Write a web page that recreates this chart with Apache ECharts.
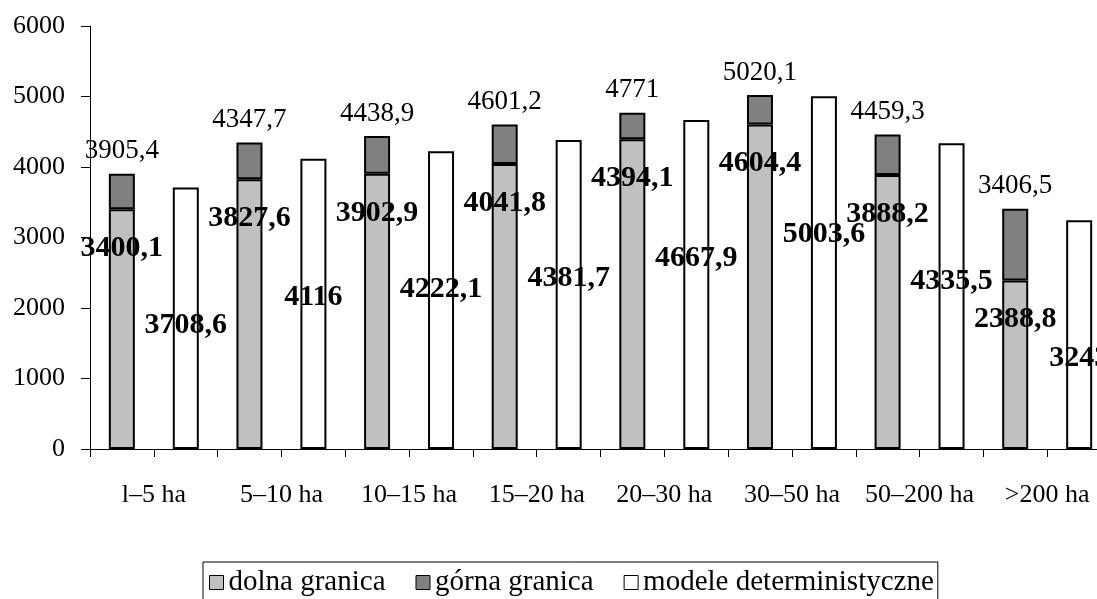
<!DOCTYPE html>
<html>
<head>
<meta charset="utf-8">
<script src="https://cdn.jsdelivr.net/npm/echarts@6/dist/echarts.min.js"></script>
<style>
html,body{margin:0;padding:0;background:#fff;overflow:hidden;width:1097px;height:599px;}
#chart{width:1111px;height:599px;}
</style>
</head>
<body>
<div id="chart"></div>
<script>
var categories = ['l\u20135 ha', '5\u201310 ha', '10\u201315 ha', '15\u201320 ha', '20\u201330 ha', '30\u201350 ha', '50\u2013200 ha', '>200 ha'];
var dolna = [3400.1, 3827.6, 3902.9, 4041.8, 4394.1, 4604.4, 3888.2, 2388.8];
var gorna = [3905.4, 4347.7, 4438.9, 4601.2, 4771, 5020.1, 4459.3, 3406.5];
var modele = [3708.6, 4116, 4222.1, 4381.7, 4667.9, 5003.6, 4335.5, 3243];
var yTicks = [0, 1000, 2000, 3000, 4000, 5000, 6000];
var seriesNames = ['dolna granica', 'g\u00f3rna granica', 'modele deterministyczne'];

var FONT = "'Liberation Serif', 'Times New Roman', serif";
function fmt(v) { return String(v).replace('.', ','); }
var gornaDiff = gorna.map(function (g, i) { return Math.round((g - dolna[i]) * 10) / 10; });
var halfSlots = [];
for (var i = 0; i < categories.length * 2; i++) halfSlots.push('');

var chart = echarts.init(document.getElementById('chart'), null, {renderer: 'canvas'});
chart.setOption({
  animation: false,
  backgroundColor: '#fff',
  textStyle: {fontFamily: FONT, color: '#000'},
  grid: {left: 90, top: 26, width: 1021, height: 423, containLabel: false},
  legend: {
    data: seriesNames,
    left: 203, top: 562,
    icon: 'rect', itemWidth: 14, itemHeight: 14, itemGap: 30,
    itemStyle: {borderWidth: 1, borderColor: '#000'},
    borderColor: '#000', borderWidth: 1, padding: [6, 4, 8, 6],
    textStyle: {fontFamily: FONT, fontSize: 29, color: '#000'}
  },
  xAxis: [{
    type: 'category', data: categories, position: 'bottom',
    axisLine: {show: true, lineStyle: {color: '#000', width: 1}},
    axisTick: {show: false},
    axisLabel: {fontFamily: FONT, fontSize: 26, color: '#000', margin: 33, interval: 0}
  }, {
    type: 'category', data: halfSlots, position: 'bottom', gridIndex: 0,
    axisLine: {show: false},
    axisTick: {show: true, length: 8, lineStyle: {color: '#000', width: 1}},
    axisLabel: {show: false}
  }],
  yAxis: {
    type: 'value', min: yTicks[0], max: yTicks[yTicks.length - 1], interval: 1000,
    axisLine: {show: true, lineStyle: {color: '#000', width: 1}},
    axisTick: {show: true, length: 9, lineStyle: {color: '#000'}},
    splitLine: {show: false},
    axisLabel: {fontFamily: FONT, fontSize: 26, color: '#000', margin: 25,
      formatter: function (v) { return String(v); }}
  },
  series: [{
    name: seriesNames[0], type: 'bar', stack: 'g', xAxisIndex: 0, barWidth: 26,
    data: dolna,
    itemStyle: {color: '#C0C0C0', borderColor: '#000', borderWidth: 2},
    label: {show: true, position: 'insideTop', distance: 24, fontFamily: FONT, fontSize: 30,
      fontWeight: 'bold', color: '#000', formatter: function (p) { return fmt(dolna[p.dataIndex]); }}
  }, {
    name: seriesNames[1], type: 'bar', stack: 'g', xAxisIndex: 0, barWidth: 26,
    data: gornaDiff,
    itemStyle: {color: '#808080', borderColor: '#000', borderWidth: 2},
    label: {show: true, position: 'top', distance: 9, fontFamily: FONT, fontSize: 27,
      color: '#000', formatter: function (p) { return fmt(gorna[p.dataIndex]); }}
  }, {
    name: seriesNames[2], type: 'bar', xAxisIndex: 0, barWidth: 26, barGap: '146%',
    data: modele,
    itemStyle: {color: '#FFFFFF', borderColor: '#000', borderWidth: 2},
    label: {show: true, position: 'insideTop', distance: 123, fontFamily: FONT, fontSize: 30,
      fontWeight: 'bold', color: '#000', formatter: function (p) { return fmt(modele[p.dataIndex]); }}
  }]
});
</script>
</body>
</html>
